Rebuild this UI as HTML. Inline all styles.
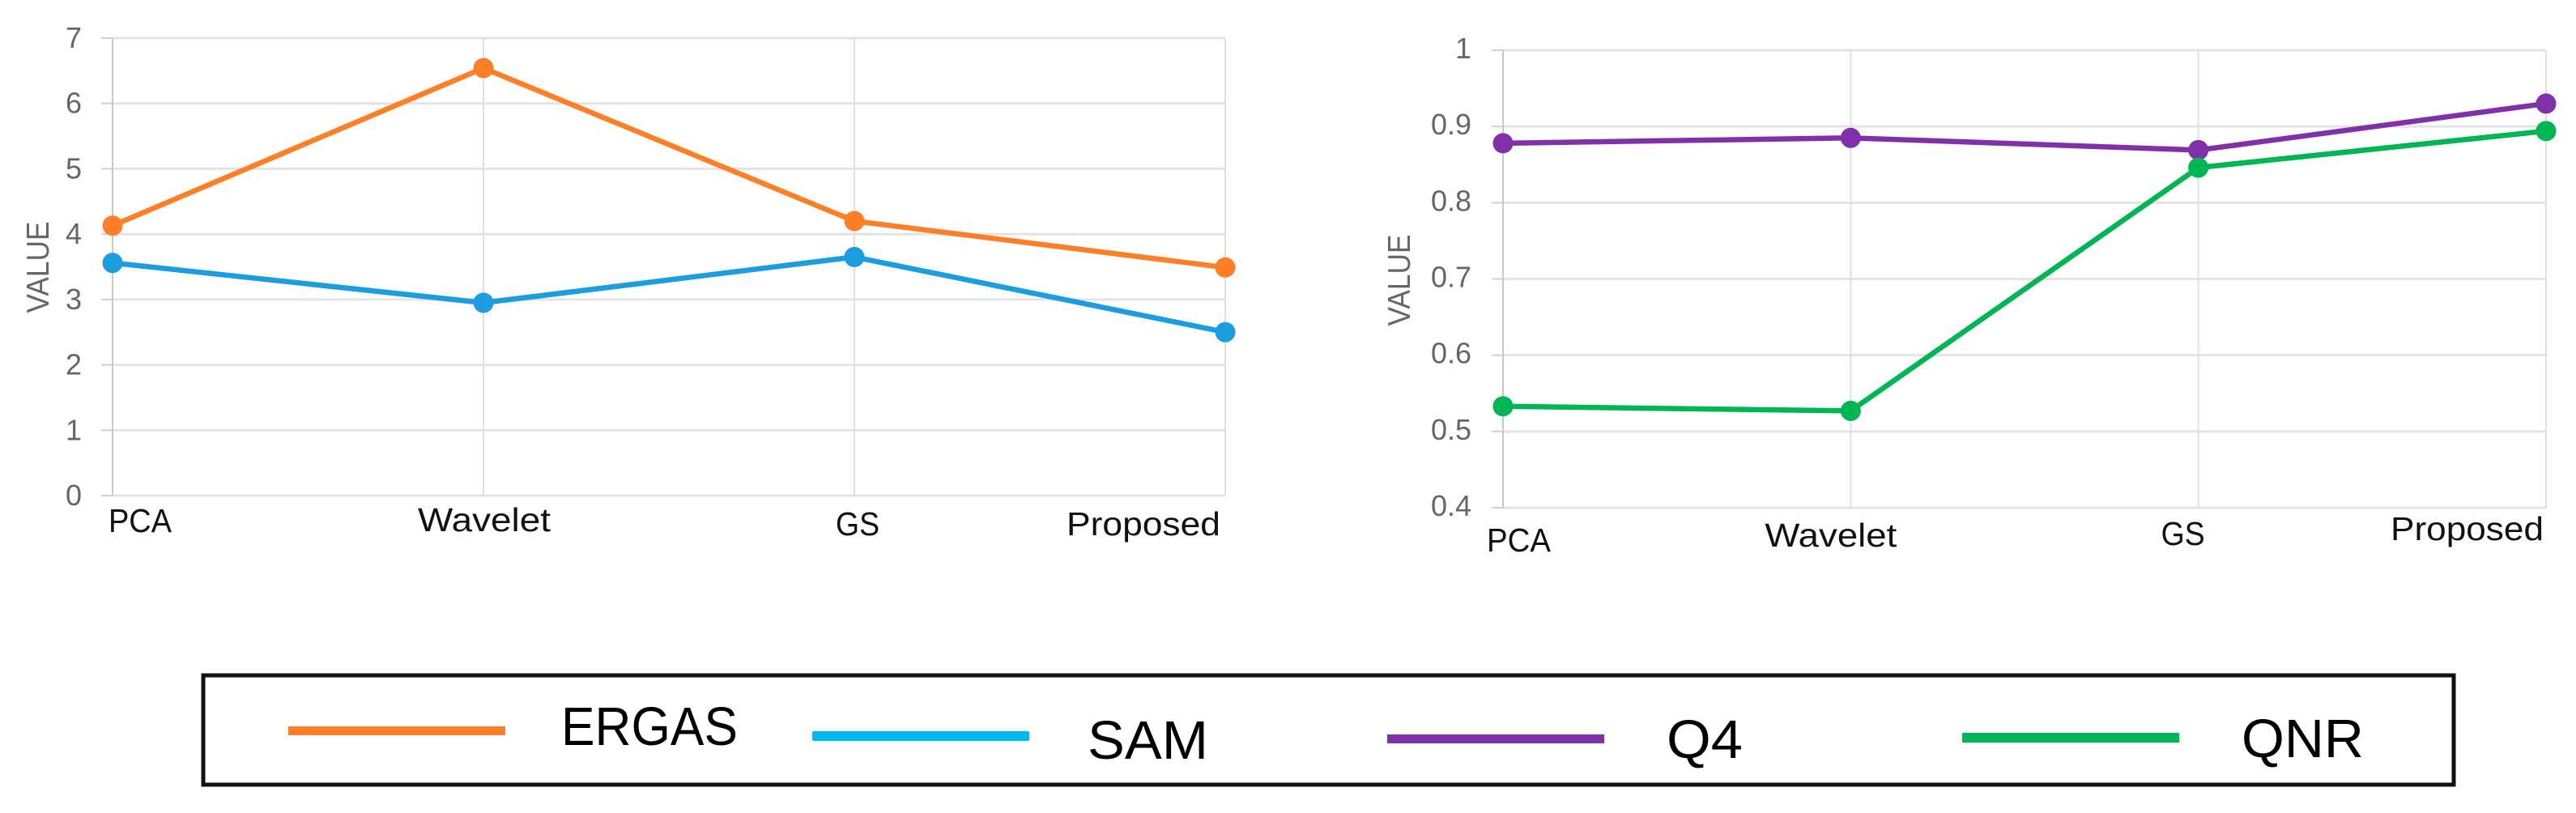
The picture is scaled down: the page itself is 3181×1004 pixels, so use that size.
<!DOCTYPE html>
<html lang="en">
<head>
<meta charset="utf-8">
<title>Fusion quality metrics by method</title>
<style>
  html, body { margin: 0; padding: 0; background: #fff; }
  svg { display: block; font-family: "Liberation Sans", sans-serif; }
</style>
</head>
<body>
<svg id="figure" xmlns="http://www.w3.org/2000/svg" width="3181" height="1004" viewBox="0 0 3181 1004">
  <rect x="0" y="0" width="3181" height="1004" fill="#ffffff"/>
  <g id="left-chart"></g>
  <g id="right-chart"></g>
  <g>
    <rect x="251" y="834" width="2779" height="135" fill="none" stroke="#111111" stroke-width="5"/>
    <g>
      <rect x="356" y="897" width="268" height="11" fill="#ff7f27"/>
      <text x="693" y="920" font-size="67" textLength="218" lengthAdjust="spacingAndGlyphs" fill="#000">ERGAS</text>
    </g>
    <g>
      <rect x="1003" y="903" width="268" height="12" rx="2" fill="#00b8f0"/>
      <text x="1343" y="937" font-size="67" textLength="149" lengthAdjust="spacingAndGlyphs" fill="#000">SAM</text>
    </g>
    <g>
      <rect x="1713" y="907" width="268" height="11" fill="#8030a8"/>
      <text x="2058" y="936" font-size="67" textLength="94" lengthAdjust="spacingAndGlyphs" fill="#000">Q4</text>
    </g>
    <g>
      <rect x="2423" y="905" width="268" height="12" fill="#00b554"/>
      <text x="2768" y="935" font-size="67" textLength="151" lengthAdjust="spacingAndGlyphs" fill="#000">QNR</text>
    </g>
  </g>
</svg>
<script>
const categories = ["PCA", "Wavelet", "GS", "Proposed"];

const leftTickValues = [0, 1, 2, 3, 4, 5, 6, 7];
const leftTickLabels = ["0", "1", "2", "3", "4", "5", "6", "7"];
const ergasValues = [4.13, 6.54, 4.2, 3.49];
const samValues = [3.56, 2.95, 3.65, 2.5];

const rightTickValues = [0.4, 0.5, 0.6, 0.7, 0.8, 0.9, 1];
const rightTickLabels = ["0.4", "0.5", "0.6", "0.7", "0.8", "0.9", "1"];
const q4Values = [0.878, 0.885, 0.869, 0.93];
const qnrValues = [0.533, 0.527, 0.846, 0.894];

const SVG_NS = "http://www.w3.org/2000/svg";

function make(tag, attrs, parent) {
  const el = document.createElementNS(SVG_NS, tag);
  for (const key in attrs) {
    el.setAttribute(key, attrs[key]);
  }
  parent.appendChild(el);
  return el;
}

function slug(text) {
  return String(text).toLowerCase().replace(/[^a-z0-9]+/g, "-");
}

function drawChart(root, opts) {
  const xScale = function (i) {
    return opts.xFirst + (opts.xLast - opts.xFirst) * i / (categories.length - 1);
  };
  const yScale = function (v) {
    return opts.yBottom - (v - opts.domain[0]) / (opts.domain[1] - opts.domain[0]) * (opts.yBottom - opts.yTop);
  };

  opts.ticks.forEach(function (v, i) {
    const y = yScale(v);
    const grid = make("line", { x1: opts.xFirst, x2: opts.xLast, y1: y, y2: y, stroke: "#e3e3e3", "stroke-width": 3 }, root);
    
    
    const tick = make("line", { x1: opts.xFirst - 14, x2: opts.xFirst, y1: y, y2: y, stroke: "#d0d0d0", "stroke-width": 2 }, root);
    
    
    const label = make("text", { x: opts.tickRight, y: y + opts.tickDrop, "font-size": 36, "text-anchor": "end", fill: "#666666" }, root);
    
    
    label.textContent = opts.tickLabels[i];
  });

  categories.forEach(function (name, i) {
    const x = xScale(i);
    const vline = make("line", { x1: x, x2: x, y1: opts.yTop, y2: opts.yBottom, stroke: i === 0 ? "#c8c8c8" : "#e0e0e0", "stroke-width": 2 }, root);
    
    
    const nudge = opts.categoryNudges[i];
    const label = make("text", { x: x + nudge.dx, y: opts.yBottom + nudge.dy, "font-size": 41, textLength: nudge.width, lengthAdjust: "spacingAndGlyphs", fill: "#111111" }, root);
    
    
    label.textContent = name;
  });

  const title = make("text", { x: 0, y: 0, "font-size": 39, "text-anchor": "middle", textLength: 113, lengthAdjust: "spacingAndGlyphs", fill: "#666666", transform: "translate(" + opts.titleX + " " + opts.titleY + ") rotate(-90)" }, root);
  
  
  title.textContent = "VALUE";

  opts.series.forEach(function (s) {
    const points = s.values.map(function (v, i) {
      return xScale(i) + "," + yScale(v);
    }).join(" ");
    const line = make("polyline", { points: points, fill: "none", stroke: s.color, "stroke-width": 6.5, "stroke-linejoin": "round" }, root);
    
    
    s.values.forEach(function (v, i) {
      const dot = make("circle", { cx: xScale(i), cy: yScale(v), r: 12.5, fill: s.color }, root);
      
      
    });
  });
}

drawChart(document.getElementById("left-chart"), {
  xFirst: 139, xLast: 1513, yTop: 47, yBottom: 612,
  domain: [0, 7],
  ticks: leftTickValues,
  tickLabels: leftTickLabels,
  tickRight: 101,
  tickDrop: 12,
  titleX: 60, titleY: 330,
  categoryNudges: [
    { dx: -5, dy: 45, width: 78 },
    { dx: -81, dy: 44, width: 164 },
    { dx: -23, dy: 49, width: 54 },
    { dx: -196, dy: 49, width: 190 }
  ],
  series: [
    { key: "ergas", color: "#ff7f27", values: ergasValues },
    { key: "sam", color: "#1b9ddf", values: samValues }
  ]
});

drawChart(document.getElementById("right-chart"), {
  xFirst: 1856, xLast: 3144, yTop: 62, yBottom: 627,
  domain: [0.4, 1],
  ticks: rightTickValues,
  tickLabels: rightTickLabels,
  tickRight: 1817,
  tickDrop: 10,
  titleX: 1741, titleY: 346,
  categoryNudges: [
    { dx: -20, dy: 54, width: 79 },
    { dx: -106, dy: 48, width: 163 },
    { dx: -46, dy: 46, width: 54 },
    { dx: -192, dy: 40, width: 189 }
  ],
  series: [
    { key: "q4", color: "#8030a8", values: q4Values },
    { key: "qnr", color: "#00b554", values: qnrValues }
  ]
});
</script>
</body>
</html>
